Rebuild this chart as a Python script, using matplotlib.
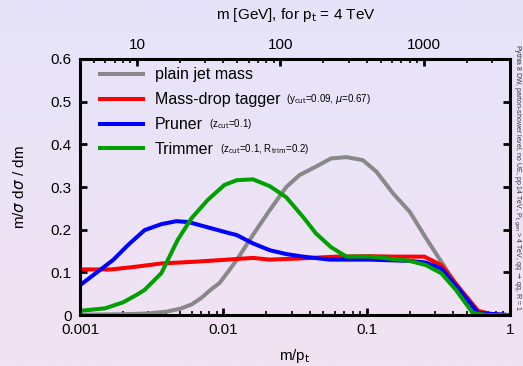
import numpy as np
import matplotlib
matplotlib.use("Agg")
import matplotlib.pyplot as plt
from matplotlib.colors import LinearSegmentedColormap

plt.rcParams["font.family"] = ["Liberation Sans", "DejaVu Sans"]

# curves, x = m/pt
x_plain = [0.001, 0.002, 0.003, 0.004, 0.005, 0.006, 0.007, 0.0082, 0.0094, 0.0107,
           0.0124, 0.0161, 0.0211, 0.0275, 0.034, 0.0444, 0.0565, 0.0723, 0.094,
           0.117, 0.153, 0.2, 0.26, 0.332, 0.445, 0.6, 1.0]
y_plain = [0.001, 0.002, 0.004, 0.008, 0.015, 0.025, 0.04, 0.06, 0.075, 0.1,
           0.129, 0.188, 0.246, 0.30, 0.328, 0.348, 0.367, 0.37, 0.363,
           0.336, 0.285, 0.242, 0.18, 0.125, 0.059, 0.0, 0.0]

x_mdt = [0.001, 0.00165, 0.0024, 0.0037, 0.0063, 0.0107, 0.0161, 0.0211, 0.036,
         0.0616, 0.1045, 0.153, 0.253, 0.332, 0.445, 0.6, 0.75, 1.0]
y_mdt = [0.107, 0.107, 0.113, 0.121, 0.125, 0.13, 0.134, 0.13, 0.133,
         0.137, 0.138, 0.137, 0.137, 0.117, 0.063, 0.01, 0.002, 0.0]

x_prune = [0.001, 0.0017, 0.00216, 0.00282, 0.00369, 0.0047, 0.0057, 0.0107, 0.0124,
           0.0161, 0.0211, 0.0275, 0.036, 0.0552, 0.1045, 0.2, 0.26, 0.332, 0.445,
           0.6, 1.0]
y_prune = [0.07, 0.129, 0.164, 0.199, 0.213, 0.22, 0.218, 0.193, 0.1875,
           0.168, 0.152, 0.143, 0.137, 0.13, 0.13, 0.127, 0.123, 0.109, 0.059,
           0.005, 0.0]

x_trim = [0.001, 0.0015, 0.002, 0.0025, 0.00282, 0.00369, 0.0048, 0.006, 0.0078,
          0.0102, 0.0124, 0.0161, 0.0211, 0.0275, 0.036, 0.0444, 0.0565, 0.0723,
          0.1045, 0.123, 0.2, 0.26, 0.332, 0.42, 0.55, 0.7, 1.0]
y_trim = [0.01, 0.016, 0.03, 0.048, 0.059, 0.098, 0.176, 0.227, 0.27,
          0.305, 0.316, 0.318, 0.302, 0.276, 0.23, 0.191, 0.159, 0.137,
          0.137, 0.135, 0.127, 0.117, 0.098, 0.059, 0.005, 0.0, 0.0]

labels = ["plain jet mass", "Mass-drop tagger", "Pruner", "Trimmer"]
small_labels = ["",
                r"(y$_{\rm cut}$=0.09, $\mu$=0.67)",
                r"(z$_{\rm cut}$=0.1)",
                r"(z$_{\rm cut}$=0.1, R$_{\rm trim}$=0.2)"]
colors = ["#888888", "#ff0000", "#0000ff", "#00a000"]

xticks = [0.001, 0.01, 0.1, 1]
xticklabels = ["0.001", "0.01", "0.1", "1"]
yticks = [0, 0.1, 0.2, 0.3, 0.4, 0.5, 0.6]
yticklabels = ["0", "0.1", "0.2", "0.3", "0.4", "0.5", "0.6"]
mticks = [10, 100, 1000]
pt = 4000.0

fig = plt.figure(figsize=(5.23, 3.66), dpi=100)

# gradient background
bg = fig.add_axes([0, 0, 1, 1], zorder=-10)
cmap = LinearSegmentedColormap.from_list("bg", ["#e6e4fa", "#f2e2f2"])
bg.imshow(np.linspace(0, 1, 256).reshape(-1, 1), aspect="auto", cmap=cmap,
          extent=[0, 1, 0, 1])
bg.axis("off")

ax = fig.add_axes([0.153, 0.139, 0.822, 0.700])
ax.set_facecolor("none")

xs = [x_plain, x_mdt, x_prune, x_trim]
ys = [y_plain, y_mdt, y_prune, y_trim]
for x, y, c, lab in zip(xs, ys, colors, labels):
    ax.plot(x, y, color=c, lw=2.9, label=lab, solid_joinstyle="miter")

ax.set_xscale("log")
ax.set_xlim(0.001, 1)
ax.set_ylim(0, 0.6)
ax.set_xticks(xticks)
ax.set_xticklabels(xticklabels, fontsize=11)
ax.set_yticks(yticks)
ax.set_yticklabels(yticklabels, fontsize=11)
ax.tick_params(which="major", direction="in", length=5, width=2,
               top=False, right=True, pad=6)
ax.tick_params(which="minor", direction="in", length=3, width=1.2,
               top=False, right=True)
for s in ax.spines.values():
    s.set_linewidth(2.2)

sec = ax.secondary_xaxis("top", functions=(lambda x: x * pt, lambda m: m / pt))
sec.set_xticks(mticks)
sec.set_xticklabels([str(m) for m in mticks], fontsize=11)
sec.tick_params(which="major", direction="in", length=5, width=2, pad=5)
sec.tick_params(which="minor", direction="in", length=3, width=1.2)

ax.set_xlabel(r"m/p$_{\rm t}$", fontsize=11, labelpad=7)
ax.set_ylabel(r"m/$\sigma$ d$\sigma$ / dm", fontsize=11, labelpad=17)
fig.text(0.565, 0.959, r"m [GeV], for p$_{\rm t}$ = 4 TeV", fontsize=11,
         ha="center", va="center")

leg = ax.legend(loc="upper left", bbox_to_anchor=(0.0465, 0.967), frameon=False,
                fontsize=11.5, handlelength=2.7, handletextpad=0.75,
                labelspacing=0.62, borderaxespad=0, borderpad=0)
for t, s in zip(leg.get_texts(), small_labels):
    if s:
        ax.annotate(s, xy=(1, 0), xycoords=t, xytext=(4, 1),
                    textcoords="offset points", fontsize=7, va="bottom",
                    zorder=10)

fig.text(0.988, 0.88,
         r"Pythia 8 DW, parton-shower level, no UE, pp 14 TeV, P$_{\rm t,gen}$ > 4 TeV, qq $\rightarrow$ qq, R = 1",
         fontsize=5.0, rotation=270, ha="center", va="top", color="#333333")

fig.savefig("out.png", dpi=100)
